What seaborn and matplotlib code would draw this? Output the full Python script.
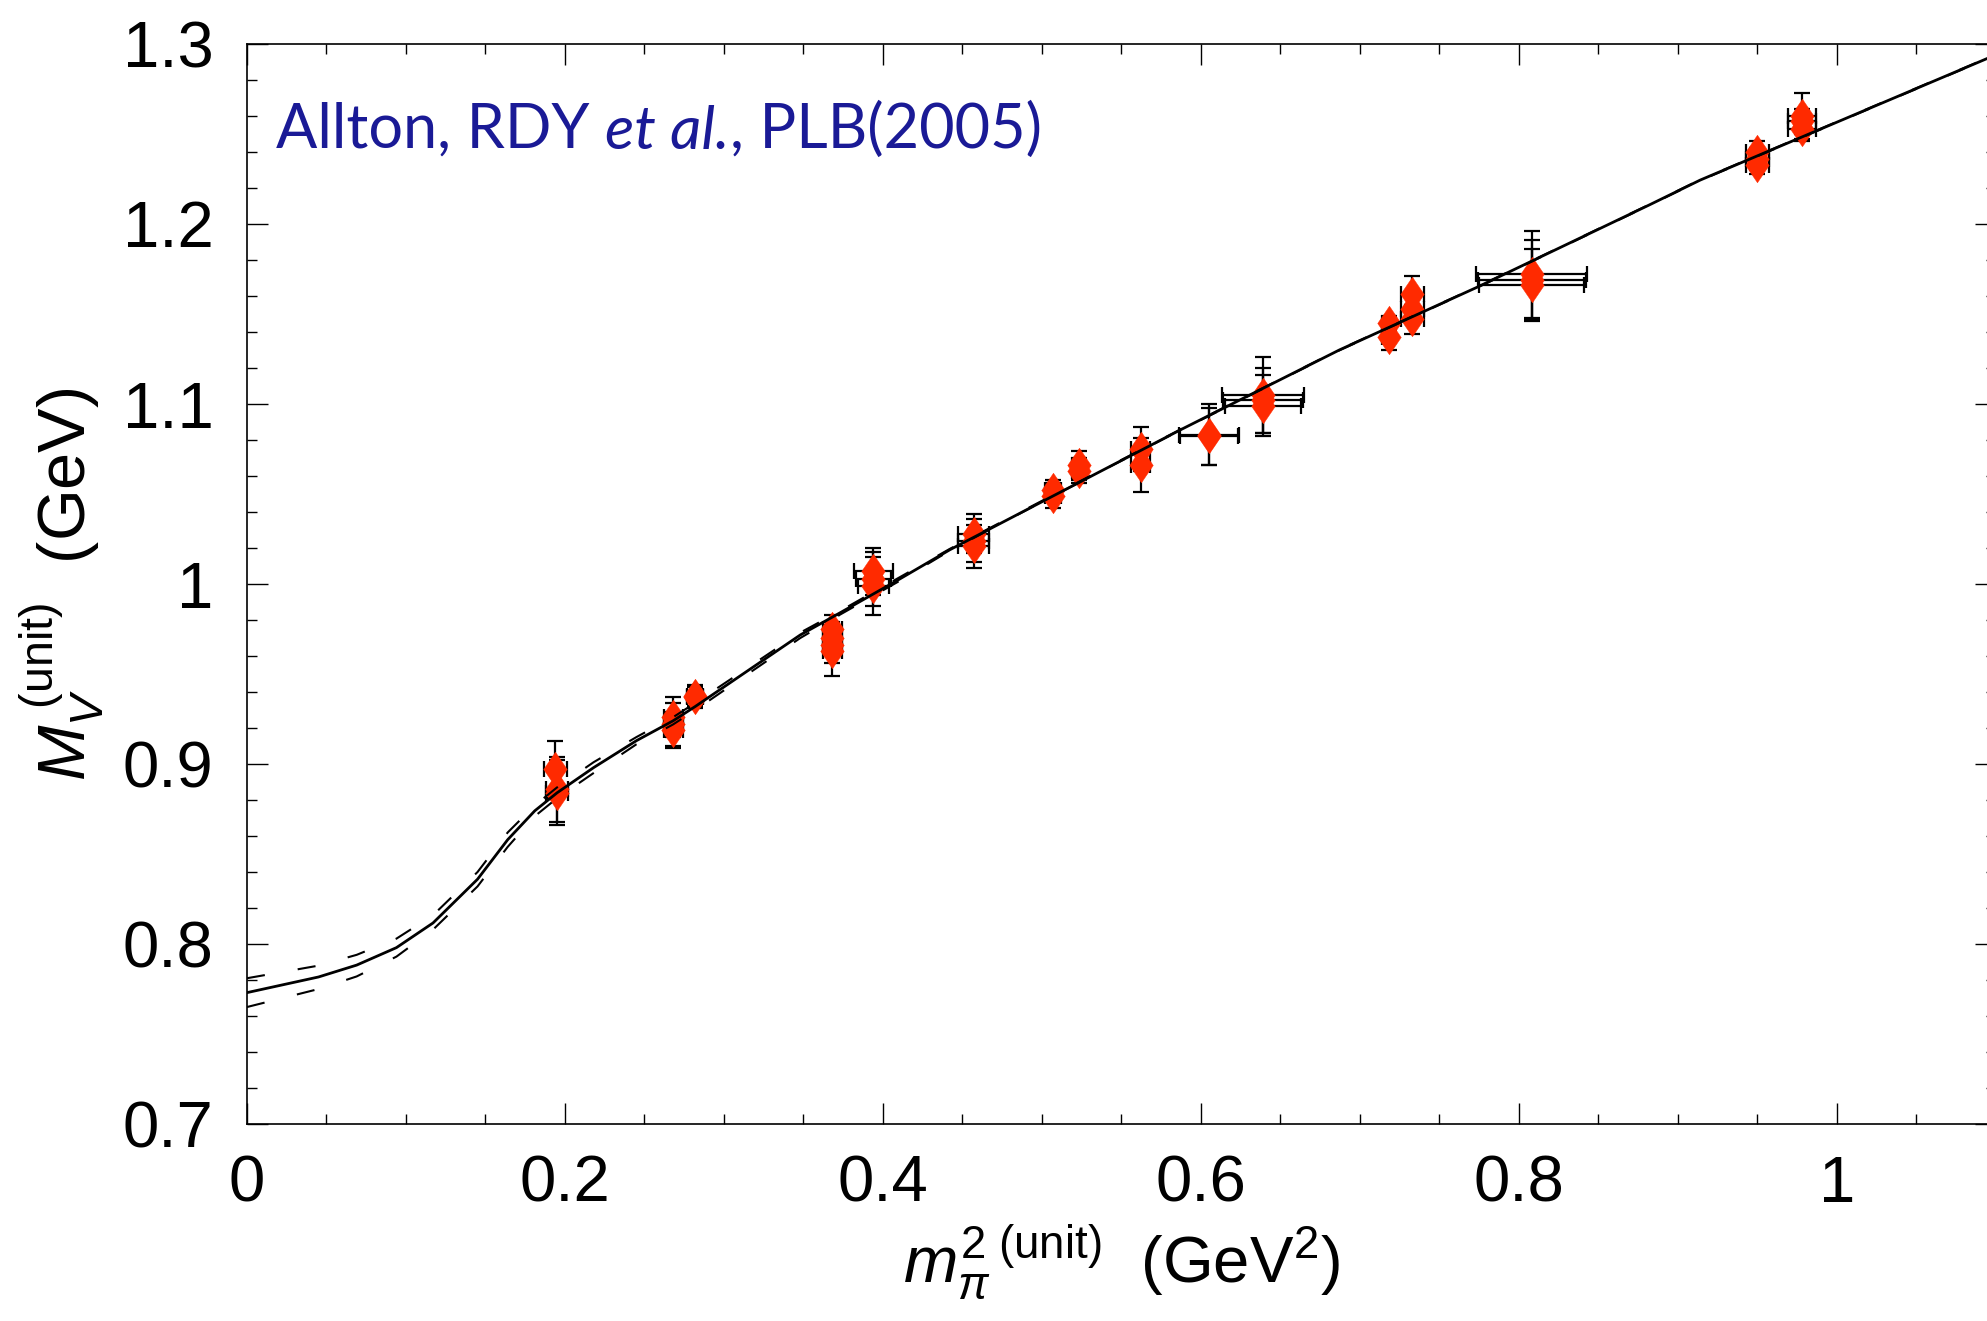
import matplotlib
matplotlib.use("Agg")
import matplotlib.pyplot as plt
import seaborn as sns
import numpy as np
from matplotlib.path import Path

# ---------------- data ----------------
curve_x = [0.0, 0.045, 0.069, 0.094, 0.117, 0.145, 0.164, 0.181, 0.195, 0.218,
           0.245, 0.268, 0.282, 0.348, 0.373, 0.409, 0.442, 0.505, 0.587, 0.687,
           0.774, 0.882, 0.914, 1.1]
curve_mid = [0.773, 0.7817, 0.7883, 0.798, 0.8117, 0.836, 0.858, 0.874, 0.884, 0.898,
             0.913, 0.924, 0.932, 0.9717, 0.984, 1.002, 1.019, 1.048, 1.0856, 1.13,
             1.165, 1.2106, 1.2244, 1.294]
curve_up = [0.781, 0.788, 0.794, 0.803, 0.816, 0.840, 0.862, 0.877, 0.887, 0.901,
            0.915, 0.926, 0.934, 0.973, 0.985, 1.003, 1.0195, 1.0485, 1.0858, 1.1302,
            1.1652, 1.2108, 1.2246, 1.2942]
curve_lo = [0.765, 0.775, 0.782, 0.793, 0.808, 0.832, 0.854, 0.871, 0.881, 0.895,
            0.911, 0.922, 0.930, 0.970, 0.983, 1.001, 1.0185, 1.048, 1.0854, 1.1298,
            1.1648, 1.2104, 1.2242, 1.2938]

pt_x = [0.194, 0.195, 0.195,
        0.268, 0.268, 0.268,
        0.282, 0.282,
        0.368, 0.368, 0.368, 0.368,
        0.394, 0.394, 0.394,
        0.457, 0.457, 0.457,
        0.507, 0.507,
        0.523, 0.523,
        0.562, 0.562,
        0.605, 0.605,
        0.639, 0.639, 0.639,
        0.718, 0.718,
        0.733, 0.733, 0.733,
        0.808, 0.808, 0.808,
        0.950, 0.950, 0.950,
        0.978, 0.978, 0.978]
pt_y = [0.897, 0.886, 0.884,
        0.926, 0.922, 0.919,
        0.938, 0.937,
        0.975, 0.970, 0.966, 0.963,
        1.007, 1.003, 0.999,
        1.028, 1.024, 1.021,
        1.052, 1.049,
        1.066, 1.063,
        1.075, 1.066,
        1.083, 1.082,
        1.105, 1.102, 1.099,
        1.145, 1.137,
        1.161, 1.153, 1.147,
        1.172, 1.169, 1.166,
        1.240, 1.236, 1.233,
        1.260, 1.257, 1.253]
pt_yerr = [0.016, 0.018, 0.018,
           0.011, 0.012, 0.010,
           0.006, 0.006,
           0.008, 0.009, 0.010, 0.014,
           0.013, 0.015, 0.016,
           0.011, 0.012, 0.012,
           0.006, 0.007,
           0.008, 0.007,
           0.012, 0.015,
           0.017, 0.016,
           0.021, 0.018, 0.017,
           0.004, 0.007,
           0.010, 0.008, 0.008,
           0.024, 0.022, 0.020,
           0.006, 0.006, 0.005,
           0.013, 0.007, 0.007]
pt_xerr = [0.007, 0.007, 0.007,
           0.006, 0.006, 0.006,
           0.005, 0.005,
           0.006, 0.006, 0.006, 0.006,
           0.012, 0.011, 0.010,
           0.0095, 0.0095, 0.0095,
           0.005, 0.005,
           0.004, 0.004,
           0.006, 0.006,
           0.019, 0.018,
           0.026, 0.025, 0.024,
           0.004, 0.004,
           0.007, 0.007, 0.007,
           0.035, 0.034, 0.033,
           0.007, 0.007, 0.007,
           0.009, 0.009, 0.009]

xticks = [0, 0.2, 0.4, 0.6, 0.8, 1.0]
xtick_labels = ["0", "0.2", "0.4", "0.6", "0.8", "1"]
yticks = [0.7, 0.8, 0.9, 1.0, 1.1, 1.2, 1.3]
ytick_labels = ["0.7", "0.8", "0.9", "1", "1.1", "1.2", "1.3"]

# ---------------- style ----------------
sns.set_theme(style="ticks")
plt.rcParams["font.family"] = ["Liberation Sans", "DejaVu Sans"]
plt.rcParams["mathtext.fontset"] = "custom"
plt.rcParams["mathtext.rm"] = "Liberation Sans"
plt.rcParams["mathtext.it"] = "Liberation Sans:italic"
plt.rcParams["mathtext.bf"] = "Liberation Sans:bold"
plt.rcParams["text.color"] = "black"
plt.rcParams["axes.labelcolor"] = "black"
plt.rcParams["xtick.color"] = "black"
plt.rcParams["ytick.color"] = "black"

fig = plt.figure(figsize=(19.87, 13.21), dpi=100)
ax = fig.add_axes([0.1243, 0.1491, 1.0045 - 0.1243, 0.9667 - 0.1491])

# error bars
ax.errorbar(pt_x, pt_y, yerr=pt_yerr, xerr=pt_xerr, fmt="none", ecolor="black",
            elinewidth=1.6, capsize=6, capthick=1.6, zorder=2)

# diamonds
diamond = Path([(0, 1), (0.68, 0), (0, -1), (-0.68, 0), (0, 1)],
               [Path.MOVETO, Path.LINETO, Path.LINETO, Path.LINETO, Path.CLOSEPOLY])
sns.scatterplot(x=pt_x, y=pt_y, ax=ax, marker=diamond, s=620, color="#ff2a00",
                edgecolor="#ff2a00", linewidth=0.3, zorder=3, legend=False)

# curves
sns.lineplot(x=curve_x, y=curve_mid, ax=ax, color="black", linewidth=2.0,
             estimator=None, sort=False, zorder=4)
for cy in (curve_up, curve_lo):
    sns.lineplot(x=curve_x, y=cy, ax=ax, color="black", linewidth=1.5,
                 estimator=None, sort=False, zorder=4)
    ax.lines[-1].set_dashes((8.7, 16))

ax.set_xlim(0, 1.1)
ax.set_ylim(0.7, 1.3)
ax.set_xticks(xticks)
ax.set_xticklabels(xtick_labels)
ax.set_yticks(yticks)
ax.set_yticklabels(ytick_labels)
ax.set_xticks(np.arange(0, 1.101, 0.05), minor=True)
ax.set_yticks(np.arange(0.7, 1.301, 0.02), minor=True)
ax.tick_params(which="both", direction="in", top=True, right=True,
               color="black", width=1.0, labelcolor="black")
ax.tick_params(which="major", length=15, labelsize=47, pad=22)
ax.tick_params(which="minor", length=7)
ax.tick_params(axis="y", which="major", pad=24)
for s in ax.spines.values():
    s.set_linewidth(1.2)
    s.set_color("black")

ax.set_xlabel(r"$m_\pi^{2\ \mathrm{(unit)}}$  (GeV$^2$)", fontsize=47, labelpad=6,
              color="black")
ax.set_ylabel(r"$M_V^{\ \mathrm{(unit)}}$  (GeV)", fontsize=48, labelpad=12,
              color="black")

# annotation with italic part
tcol = "#1a1a96"
fs = 44
t1 = ax.text(0.0167, 0.904, "Allton, RDY ", transform=ax.transAxes, fontsize=fs,
             color=tcol, family=["Lato", "DejaVu Sans"], va="baseline")
t2 = ax.annotate("et al.", xy=(1, 0), xycoords=t1, fontsize=fs, color=tcol,
                 family=["Lato", "DejaVu Sans"], style="italic", va="bottom")
t3 = ax.annotate(", PLB(2005)", xy=(1, 0), xycoords=t2, fontsize=fs, color=tcol,
                 family=["Lato", "DejaVu Sans"], va="bottom")

fig.savefig("out.png", dpi=100)
